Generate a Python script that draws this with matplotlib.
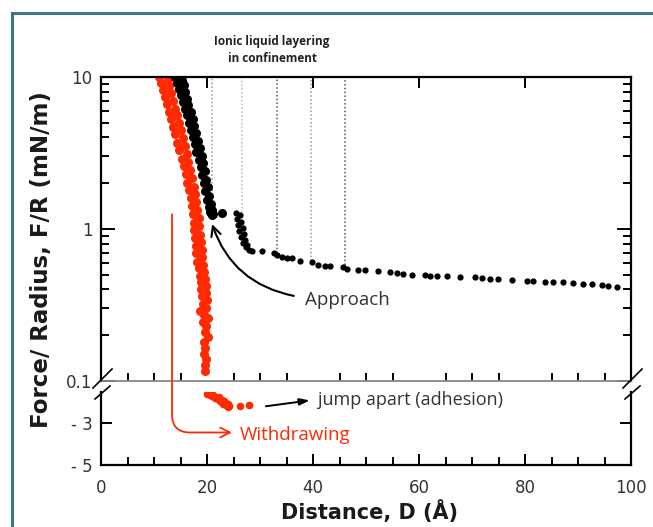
import matplotlib
matplotlib.use("Agg")
import matplotlib.pyplot as plt
from matplotlib.patches import Rectangle
from matplotlib.lines import Line2D
from matplotlib.ticker import FixedLocator, NullFormatter, LogLocator

# ---- data ----
# approach (black), steep part
app_D = [14.0, 15.3, 14.4, 15.6, 14.8, 15.9, 15.1, 16.2, 15.5, 16.5, 15.9, 16.9,
         16.3, 17.3, 16.6, 17.6, 17.0, 18.0, 17.4, 18.3, 17.7, 18.6, 18.0, 19.0,
         18.4, 19.3, 18.8, 19.6, 19.1, 19.9, 19.4, 20.2, 19.7, 20.4, 20.0, 20.7,
         20.3, 21.0, 20.6, 21.2, 20.9, 22.8]
app_F = [10.0, 9.6, 9.2, 8.8, 8.4, 8.0, 7.6, 7.2, 6.8, 6.5, 6.2, 5.9,
         5.6, 5.3, 5.0, 4.75, 4.5, 4.25, 4.0, 3.8, 3.6, 3.4, 3.2, 3.0,
         2.85, 2.7, 2.55, 2.4, 2.25, 2.1, 2.0, 1.88, 1.77, 1.66, 1.56, 1.47,
         1.40, 1.34, 1.30, 1.26, 1.24, 1.28]
# approach, second layer + tail
app2_D = [25.4, 26.3, 25.7, 26.5, 25.9, 26.7, 26.1, 26.9, 26.4, 27.2, 26.8, 27.6,
          27.3, 28.0, 28.4, 30.4, 32.6, 33.3, 34.2, 35.0, 36.0, 37.5, 39.8, 41.0,
          42.3, 43.2, 45.7, 46.4, 48.5, 49.8, 52.3, 54.5, 55.8, 57.0, 58.7, 61.1,
          62.1, 63.4, 65.3, 67.7, 70.6, 71.9, 73.4, 74.9, 77.5, 80.3, 81.5, 83.8,
          85.3, 87.2, 89.1, 90.9, 92.6, 94.5, 95.7, 97.4]
app2_F = [1.27, 1.24, 1.16, 1.12, 1.06, 1.02, 0.97, 0.93, 0.89, 0.85, 0.81, 0.78,
          0.76, 0.73, 0.72, 0.72, 0.69, 0.67, 0.655, 0.645, 0.64, 0.617, 0.608, 0.581,
          0.572, 0.572, 0.563, 0.547, 0.538, 0.538, 0.530, 0.523, 0.515, 0.507, 0.499, 0.499,
          0.492, 0.492, 0.492, 0.484, 0.484, 0.477, 0.470, 0.470, 0.463, 0.456, 0.456, 0.449,
          0.449, 0.449, 0.442, 0.436, 0.436, 0.429, 0.423, 0.417]
# withdrawing (red), repulsive part
wd_D = [11.0, 12.6, 11.3, 12.9, 11.7, 13.2, 12.0, 13.6, 12.4, 14.0, 12.8, 14.3,
        13.2, 14.7, 13.6, 15.0, 14.0, 15.4, 14.4, 15.8, 14.8, 16.2, 15.2, 16.5,
        15.6, 16.8, 16.0, 17.2, 16.3, 17.5, 16.6, 17.8, 16.9, 18.0, 17.1, 18.2,
        17.3, 18.4, 17.5, 18.5, 17.6, 18.7, 17.8, 18.8, 17.9, 19.0, 18.0, 19.1,
        18.2, 19.3, 18.4, 19.4, 18.6, 19.6, 18.8, 19.8, 18.9, 19.9, 19.1, 20.0,
        19.2, 19.8, 18.7, 19.5, 20.2, 19.3, 19.9, 19.6, 20.1, 19.4, 19.7, 19.5,
        19.8, 19.6, 19.7]
wd_F = [10.0, 9.6, 9.1, 8.7, 8.2, 7.8, 7.4, 7.0, 6.6, 6.2, 5.9, 5.6,
        5.3, 5.0, 4.7, 4.45, 4.2, 3.95, 3.7, 3.5, 3.3, 3.1, 2.9, 2.75,
        2.6, 2.45, 2.3, 2.15, 2.0, 1.9, 1.8, 1.7, 1.6, 1.5, 1.42, 1.34,
        1.26, 1.18, 1.1, 1.04, 0.98, 0.92, 0.87, 0.82, 0.77, 0.73, 0.69, 0.65,
        0.61, 0.58, 0.55, 0.52, 0.49, 0.47, 0.45, 0.42, 0.40, 0.38, 0.36, 0.34,
        0.32, 0.30, 0.29, 0.27, 0.26, 0.245, 0.23, 0.21, 0.195, 0.18, 0.165, 0.15,
        0.14, 0.128, 0.117]
# withdrawing, adhesive part (below the axis break)
adh_D = [20.0, 20.5, 20.9, 21.0, 21.3, 21.6, 22.0, 22.2, 22.4, 22.8, 23.1, 23.3,
         23.5, 23.9, 24.0, 24.2, 26.2, 27.9]
adh_F = [-1.6, -1.65, -1.72, -1.6, -1.7, -1.82, -1.87, -1.78, -1.97, -1.92, -2.07, -1.97,
         -2.12, -2.22, -2.08, -2.17, -2.2, -2.15]
# layering guide lines
layer_D = [20.9, 26.6, 33.2, 39.6, 46.0]
layer_F = [1.26, 1.22, 0.70, 0.62, 0.58]
layer_col = ['#999999', '#bbbbbb', '#555555', '#999999', '#555555']

RED = '#ff2a00'
TXT = '#333333'

fig = plt.figure(figsize=(6.53, 5.27), dpi=100)
fig.patches.append(Rectangle((12 / 653, -0.1), 1.2, 1 - 13 / 527 + 0.1,
                             transform=fig.transFigure, fill=False,
                             edgecolor='#41738a', lw=2.2))

L, W = 101 / 653, 530 / 653
ax = fig.add_axes([L, 1 - 381 / 527, W, 304 / 527])
ax2 = fig.add_axes([L, 1 - 465 / 527, W, 73 / 527])

for a in (ax, ax2):
    for s in a.spines.values():
        s.set_linewidth(1.6)
    a.set_xlim(0, 100)
    a.xaxis.set_major_locator(FixedLocator([0, 20, 40, 60, 80, 100]))
    a.xaxis.set_minor_locator(FixedLocator(range(0, 101, 5)))
    a.tick_params(which='both', direction='in', width=1.4, colors='black',
                  labelcolor=TXT, labelsize=12)
    a.tick_params(which='major', length=8)
    a.tick_params(which='minor', length=6)

ax.set_yscale('log')
ax.set_ylim(0.1, 10)
ax.yaxis.set_major_locator(FixedLocator([0.1, 1, 10]))
ax.yaxis.set_minor_locator(LogLocator(subs=range(2, 10)))
ax.yaxis.set_minor_formatter(NullFormatter())
ax.set_yticklabels(['0.1', '1', '10'])
ax.tick_params(axis='x', bottom=False, top=True, labelbottom=False)
ax.tick_params(axis='y', which='both', left=True, right=True, pad=6)
ax.tick_params(axis='y', which='major', length=10)
ax.spines['bottom'].set_color('#888888')
ax.spines['bottom'].set_linewidth(1.3)

ax2.set_ylim(-5, -1.52)
ax2.yaxis.set_major_locator(FixedLocator([-5, -3]))
ax2.yaxis.set_minor_locator(FixedLocator([]))
ax2.set_yticklabels(['- 5', '- 3'])
ax2.spines['top'].set_visible(False)
ax2.tick_params(axis='x', which='both', top=False, pad=10)
ax2.tick_params(axis='y', left=True, right=True, pad=6, length=8)

# layering guides
for d, f, c in zip(layer_D, layer_F, layer_col):
    ax.plot([d, d], [f, 10], ls=(0, (1, 1.5)), color=c, lw=1.1, zorder=1)

ax.plot(wd_D, wd_F, 'o', color=RED, ms=6.5, mec='none', zorder=2)
ax.plot(app_D, app_F, 'o', color='black', ms=6.5, mec='none', zorder=3)
ax.plot(app2_D, app2_F, 'o', color='black', ms=4.5, mec='none', zorder=3)
ax2.plot(adh_D, adh_F, 'o', color=RED, ms=5.5, mec='none')

# annotations
fig.text(272 / 653, 1 - 50 / 527, 'Ionic liquid layering\nin confinement',
         ha='center', va='center', fontsize=8.5, fontweight='bold',
         family='Open Sans', color='#222222', linespacing=1.4)

ax.annotate('', xy=(20.8, 1.12), xytext=(36.9, 0.36),
            arrowprops=dict(arrowstyle='->,head_length=0.7,head_width=0.35',
                            color='black', lw=1.5,
                            connectionstyle='arc3,rad=-0.3'))
ax.text(38.5, 0.34, 'Approach', fontsize=13.5, family='Open Sans',
        color=TXT, ha='left', va='center')

ax2.annotate('', xy=(39.4, -1.92), xytext=(31.1, -2.2),
             arrowprops=dict(arrowstyle='-|>,head_length=0.6,head_width=0.2',
                             color='black', lw=1.4, shrinkA=0, shrinkB=0))
ax2.text(40.9, -1.92, 'jump apart (adhesion)', fontsize=13, family='Open Sans',
         color=TXT, ha='left', va='center')

ax2.annotate('', xy=(24.7, -3.45), xytext=(13.4, 1.25), textcoords=ax.transData,
             annotation_clip=False,
             arrowprops=dict(arrowstyle='->,head_length=0.7,head_width=0.35',
                             color=RED, lw=1.3, shrinkA=0, shrinkB=0,
                             connectionstyle='angle,angleA=-90,angleB=0,rad=18'))
ax2.text(26.2, -3.55, 'Withdrawing', fontsize=13.5, family='Open Sans',
         color=RED, ha='left', va='center')

# axis break marks
for x0 in (101, 631):
    for (xa, ya, xb, yb) in ((x0 - 8, 388, x0 + 11, 369), (x0 - 6, 399, x0 + 9, 386)):
        fig.add_artist(Line2D([xa / 653, xb / 653], [1 - ya / 527, 1 - yb / 527],
                              transform=fig.transFigure, color='black', lw=1.2))

fig.text(42 / 653, 1 - 260 / 527, 'Force/ Radius, F/R (mN/m)', rotation=90,
         ha='center', va='center', fontsize=16.5, fontweight='bold', color='#1a1a1a')
fig.text(369 / 653, 1 - 512 / 527, 'Distance, D (Å)', ha='center', va='center',
         fontsize=15, fontweight='bold', color='#1a1a1a')

fig.savefig('out.png', dpi=100)
